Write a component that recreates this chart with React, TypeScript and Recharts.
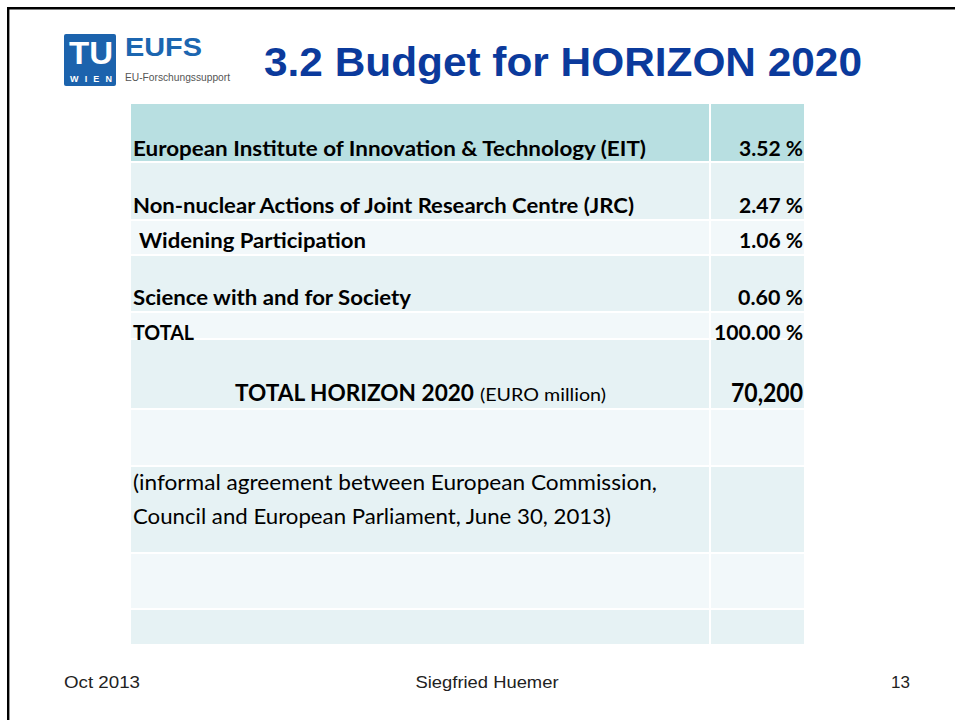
import React from 'react';
import { Surface, Layer, Rectangle } from 'recharts';

// ---------- data ----------
const slideTitle = '3.2 Budget for HORIZON 2020';
const programmeLines = [
  'European Institute of Innovation & Technology (EIT)',
  'Non-nuclear Actions of Joint Research Centre (JRC)',
  'Widening Participation',
  'Science with and for Society',
  'TOTAL',
];
const programmeShares = [3.52, 2.47, 1.06, 0.6, 100.0];
const totalLabel = 'TOTAL HORIZON 2020';
const totalUnit = '(EURO million)';
const totalBudget = 70200;
const noteLines = [
  '(informal agreement between European Commission,',
  'Council and European Parliament, June 30, 2013)',
];
const footerDate = 'Oct 2013';
const footerAuthor = 'Siegfried Huemer';
const footerPage = '13';

// ---------- layout (positions / styles only) ----------
const W = 955;
const H = 720;
const tableLeft = 131;
const colDivider = 709;
const tableRight = 804;
const rowSpans: [number, number][] = [
  [104, 161],
  [163, 219],
  [221, 254],
  [256, 311],
  [313, 338],
  [340, 408],
  [410, 465],
  [467, 552],
  [554, 608],
  [610, 644],
];
const rowFills = ['#b8dfe1', '#e6f2f4', '#f2f8fa', '#e6f2f4', '#f2f8fa', '#e6f2f4', '#f2f8fa', '#e6f2f4', '#f2f8fa', '#e6f2f4'];
const labelLayout = [
  { x: 133, w: 513, y: 156 },
  { x: 133, w: 501, y: 213 },
  { x: 139, w: 227, y: 248 },
  { x: 133, w: 278, y: 305 },
  { x: 133, w: 61, y: 340 },
];
const shareWidths = [64, 64, 64, 65, 89];
const tableFont = 'Lato, "Open Sans", sans-serif';
const sansFont = "'Liberation Sans', Arial, sans-serif";

const fmtShare = (v: number) => v.toFixed(2) + ' %';
const fmtBudget = (v: number) => v.toLocaleString('en-US');

export default function App() {
  return (
    <div style={{ position: 'absolute', left: 0, top: 0, width: W, height: H, background: '#fff' }}>
      <Surface width={W} height={H} viewBox={{ x: 0, y: 0, width: W, height: H }}>
        {/* frame */}
        <Layer>
          <Rectangle x={0} y={0} width={W} height={H} fill="#ffffff" />
          <Rectangle x={7} y={7} width={W - 7} height={2.4} fill="#000" />
          <Rectangle x={7} y={7} width={2.4} height={H - 7} fill="#000" />
        </Layer>

        {/* logo */}
        <Layer>
          <Rectangle x={64} y={34} width={52} height={52} fill="#1c63ad" radius={2} />
          <text x={69} y={64} fill="#fff" fontFamily={sansFont} fontWeight={700} fontSize={32} textLength={44} lengthAdjust="spacingAndGlyphs">TU</text>
          <text x={70} y={82} fill="#fff" fontFamily={sansFont} fontWeight={700} fontSize={9} textLength={42} lengthAdjust="spacing">WIEN</text>
          <text x={125} y={56} fill="#1c66b0" fontFamily={sansFont} fontWeight={700} fontSize={25} textLength={77} lengthAdjust="spacingAndGlyphs">EUFS</text>
          <text x={125} y={81} fill="#555" fontFamily={sansFont} fontSize={11} textLength={105} lengthAdjust="spacingAndGlyphs">EU-Forschungssupport</text>
        </Layer>

        {/* title */}
        <text x={264} y={76} fill="#0b3a9c" fontFamily={sansFont} fontWeight={700} fontSize={40} textLength={598} lengthAdjust="spacingAndGlyphs">
          {slideTitle}
        </text>

        {/* table rows */}
        <Layer>
          {rowSpans.map(([t, b], i) => (
            <React.Fragment key={i}>
              <Rectangle x={tableLeft} y={t} width={colDivider - tableLeft} height={b - t} fill={rowFills[i]} />
              <Rectangle x={colDivider + 2} y={t} width={tableRight - colDivider - 2} height={b - t} fill={rowFills[i]} />
            </React.Fragment>
          ))}
        </Layer>

        {/* programme labels and shares */}
        <Layer>
          {programmeLines.map((label, i) => (
            <React.Fragment key={label}>
              <text x={labelLayout[i].x} y={labelLayout[i].y} fill="#000" fontFamily={tableFont} fontWeight={700} fontSize={21} textLength={labelLayout[i].w} lengthAdjust="spacingAndGlyphs">
                {label}
              </text>
              <text x={tableRight - 1 - shareWidths[i]} y={labelLayout[i].y} fill="#000" fontFamily={tableFont} fontWeight={700} fontSize={21} textLength={shareWidths[i]} lengthAdjust="spacingAndGlyphs">
                {fmtShare(programmeShares[i])}
              </text>
            </React.Fragment>
          ))}
        </Layer>

        {/* total */}
        <Layer>
          <text x={235} y={401} fill="#000" fontFamily={tableFont} fontWeight={700} fontSize={23} textLength={239} lengthAdjust="spacingAndGlyphs">
            {totalLabel}
          </text>
          <text x={480} y={401} fill="#000" fontFamily={tableFont} fontSize={17} textLength={126} lengthAdjust="spacingAndGlyphs">
            {totalUnit}
          </text>
          <text x={731} y={402} fill="#000" fontFamily={tableFont} fontWeight={700} fontSize={26} textLength={72} lengthAdjust="spacingAndGlyphs">
            {fmtBudget(totalBudget)}
          </text>
        </Layer>

        {/* note */}
        <Layer>
          <text x={133} y={490} fill="#000" fontFamily={tableFont} fontSize={22} textLength={524} lengthAdjust="spacingAndGlyphs">{noteLines[0]}</text>
          <text x={133} y={524} fill="#000" fontFamily={tableFont} fontSize={22} textLength={478} lengthAdjust="spacingAndGlyphs">{noteLines[1]}</text>
        </Layer>

        {/* footer */}
        <Layer>
          <text x={64} y={688} fill="#222" fontFamily={sansFont} fontSize={17} textLength={76} lengthAdjust="spacingAndGlyphs">{footerDate}</text>
          <text x={487} y={688} fill="#222" textAnchor="middle" fontFamily={sansFont} fontSize={17} textLength={143} lengthAdjust="spacingAndGlyphs">{footerAuthor}</text>
          <text x={910} y={688} fill="#222" textAnchor="end" fontFamily={sansFont} fontSize={17}>{footerPage}</text>
        </Layer>
      </Surface>
    </div>
  );
}
